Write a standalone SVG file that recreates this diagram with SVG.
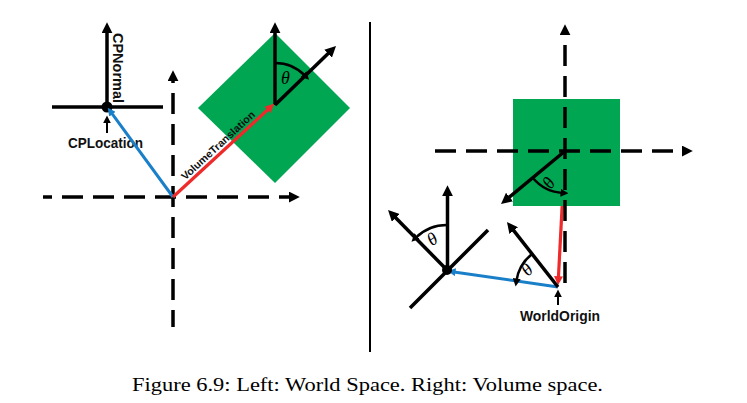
<svg xmlns="http://www.w3.org/2000/svg" width="747" height="403" viewBox="0 0 747 403">
<style>
.ax{stroke:#000;stroke-width:3.5;fill:none}
.dash{stroke-dasharray:21 10}
.thin{stroke:#000;stroke-width:2;fill:none}
.arc{stroke:#000;stroke-width:2.5;fill:none}
.blue{stroke:#1a7fc9;stroke-width:3;fill:none}
.red{stroke:#ee2a2a;stroke-width:3.2;fill:none}
.green{fill:#00a651}
.lbl{font-family:"Liberation Sans",Arial,sans-serif;font-weight:bold;font-size:14px;fill:#111}
.th{font-family:"Liberation Serif","Times New Roman",serif;font-style:italic;font-size:18px;fill:#000}
.cap{font-family:"Liberation Serif","Times New Roman",serif;font-size:19px;fill:#000}
</style>
<defs>
<marker id="ah" viewBox="0 0 10 10" refX="2" refY="5" markerWidth="11" markerHeight="11" markerUnits="userSpaceOnUse" orient="auto"><path d="M0,0 L10,5 L0,10 z" fill="#000"/></marker>
<marker id="ahs" viewBox="0 0 10 10" refX="3" refY="5" markerWidth="8" markerHeight="8" markerUnits="userSpaceOnUse" orient="auto"><path d="M0,0 L10,5 L0,10 z" fill="#000"/></marker>
<marker id="ahb" viewBox="0 0 10 10" refX="2" refY="5" markerWidth="8" markerHeight="8" markerUnits="userSpaceOnUse" orient="auto"><path d="M0,0 L10,5 L0,10 z" fill="#1a7fc9"/></marker>
<marker id="ahr" viewBox="0 0 10 10" refX="2" refY="5" markerWidth="9" markerHeight="9" markerUnits="userSpaceOnUse" orient="auto"><path d="M0,0 L10,5 L0,10 z" fill="#ee2a2a"/></marker>
</defs>

<!-- LEFT PANEL -->
<g id="volume-left">
<polygon class="green" points="275,33 350,108 275,183 198,108"/>
</g>
<g id="world-axes-left">
<line class="ax dash" x1="43" y1="197" x2="291" y2="197" stroke-dashoffset="12" marker-end="url(#ah)"/>
<line class="ax dash" x1="173" y1="327" x2="173" y2="79" stroke-dashoffset="4" marker-end="url(#ah)"/>
</g>
<g id="clip-plane">
<line class="ax" x1="52" y1="107" x2="163" y2="107"/>
<line class="ax" x1="107" y1="107" x2="107" y2="31" marker-end="url(#ah)"/>
<circle cx="107" cy="107" r="5.5" fill="#000"/>
<text class="lbl" transform="translate(113,33) rotate(90)" textLength="70" lengthAdjust="spacingAndGlyphs">CPNormal</text>
</g>
<g id="cplocation">
<line class="thin" x1="107" y1="133" x2="107" y2="121" marker-end="url(#ahs)"/>
<text class="lbl" x="68" y="148" textLength="75" lengthAdjust="spacingAndGlyphs">CPLocation</text>
</g>
<g id="volume-axes-left">
<line class="ax" x1="275" y1="105" x2="275" y2="31" marker-end="url(#ah)"/>
<line class="ax" x1="275" y1="105" x2="329.7" y2="52.1" marker-end="url(#ah)"/>
<path class="arc" d="M275,63 A42,42 0 0 1 305.2,75.8" marker-end="url(#ahs)"/>
<text class="th" x="281" y="84">θ</text>
</g>

<g id="connectors">
<line class="blue" x1="173" y1="197" x2="111.5" y2="112.9" marker-end="url(#ahb)"/>
<line class="red" x1="173" y1="197" x2="268.8" y2="108.7" marker-end="url(#ahr)"/>
<text class="lbl" style="font-size:10.5px" transform="translate(185.2,180.6) rotate(-42.6)" textLength="96" lengthAdjust="spacingAndGlyphs">VolumeTranslation</text>
<line class="red" x1="565" y1="151" x2="558.4" y2="278" marker-end="url(#ahr)"/>
<line class="blue" x1="558" y1="287" x2="453.9" y2="271.9" marker-end="url(#ahb)"/>
</g>

<!-- divider -->
<line x1="370" y1="22" x2="370" y2="352" stroke="#000" stroke-width="2"/>

<!-- RIGHT PANEL -->
<g id="volume-right">
<rect class="green" x="513" y="99" width="107" height="107"/>
</g>
<g id="volume-axes-right">
<line class="ax dash" x1="435" y1="151" x2="684" y2="151" stroke-dashoffset="0" marker-end="url(#ah)"/>
<line class="ax dash" x1="565" y1="283" x2="565" y2="33" stroke-dashoffset="0" marker-end="url(#ah)"/>
<line class="ax" x1="565" y1="151" x2="507.8" y2="198.4" marker-end="url(#ah)"/>
<path class="arc" d="M532.7,177.8 A42,42 0 0 0 562.9,192.9" marker-end="url(#ahs)"/>
<text class="th" transform="translate(551,190) rotate(-55)">θ</text>
</g>
<g id="world-origin">
<line class="ax" x1="558" y1="287" x2="512.4" y2="228.9" marker-end="url(#ah)"/>
<path class="arc" d="M532.1,253.9 A42,42 0 0 0 516.4,281" marker-end="url(#ahs)"/>
<text class="th" transform="translate(528,277) rotate(-45)">θ</text>
<line class="thin" x1="558" y1="305" x2="558" y2="295" marker-end="url(#ahs)"/>
<text class="lbl" x="520" y="321" textLength="80" lengthAdjust="spacingAndGlyphs">WorldOrigin</text>
</g>
<g id="clip-plane-right">
<line class="ax" x1="410" y1="308" x2="488" y2="230"/>
<line class="ax" x1="447.5" y1="270" x2="447.5" y2="194" marker-end="url(#ah)"/>
<line class="ax" x1="447" y1="270" x2="394.2" y2="216.3" marker-end="url(#ah)"/>
<path class="arc" d="M447,225 A45,45 0 0 0 415.5,237.9" marker-end="url(#ahs)"/>
<text class="th" transform="translate(432,246.5) rotate(-35)">θ</text>
<circle cx="447" cy="270" r="5" fill="#000"/>
</g>

<text class="cap" x="132" y="391" textLength="471" lengthAdjust="spacingAndGlyphs">Figure 6.9: Left: World Space. Right: Volume space.</text>
</svg>
